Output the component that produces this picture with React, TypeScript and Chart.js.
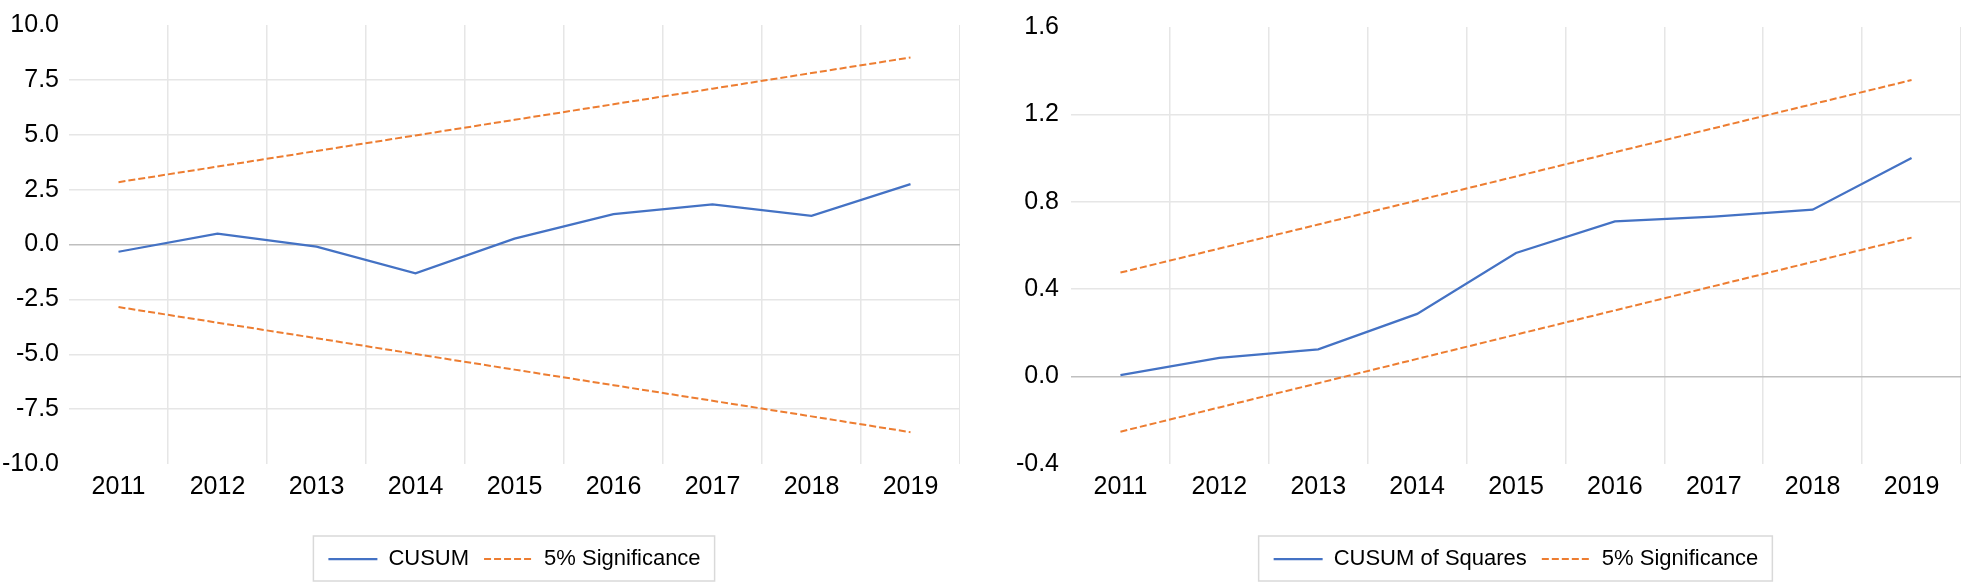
import React, { useEffect, useRef } from 'react';
import { Chart, registerables } from 'chart.js';

Chart.register(...registerables);

// ---- data ----
const years = ['2011', '2012', '2013', '2014', '2015', '2016', '2017', '2018', '2019'];

const cusum = [-0.33, 0.5, -0.1, -1.31, 0.27, 1.38, 1.83, 1.31, 2.75];
const cusumUpper = [2.84, 3.55, 4.26, 4.97, 5.68, 6.39, 7.1, 7.81, 8.52];
const cusumLower = [-2.85, -3.56, -4.27, -4.99, -5.7, -6.41, -7.12, -7.83, -8.55];

const cusumSq = [0.007, 0.086, 0.125, 0.287, 0.566, 0.71, 0.732, 0.764, 1.0];
const sqUpper = [0.476, 0.586, 0.696, 0.806, 0.916, 1.027, 1.137, 1.247, 1.357];
const sqLower = [-0.252, -0.141, -0.03, 0.081, 0.192, 0.303, 0.414, 0.525, 0.636];

const leftTicks = { min: -10, max: 10, step: 2.5 };
const rightTicks = { min: -0.4, max: 1.6, step: 0.4 };

const mainLabelLeft = 'CUSUM';
const mainLabelRight = 'CUSUM of Squares';
const sigLabel = '5% Significance';

// ---- styling ----
const FONT = "'Liberation Sans', Arial, sans-serif";
const BLUE = '#4472C4';
const ORANGE = '#ED7D31';
const GRID = '#e6e6e6';
const ZERO = '#bfbfbf';

const legendBorder = {
  id: 'legendBorder',
  afterDraw(chart: any) {
    const lg = chart.legend;
    if (!lg || !lg.legendHitBoxes || !lg.legendHitBoxes.length) return;
    const hb = lg.legendHitBoxes;
    const first = hb[0];
    const last = hb[hb.length - 1];
    const x0 = first.left - 15;
    const x1 = last.left + last.width + 14;
    const y0 = lg.top + 3;
    const y1 = lg.top + 48;
    const ctx = chart.ctx;
    ctx.save();
    ctx.strokeStyle = '#d9d9d9';
    ctx.lineWidth = 1.5;
    ctx.setLineDash([]);
    ctx.strokeRect(x0, y0, x1 - x0, y1 - y0);
    ctx.restore();
  },
};

function makeConfig(
  main: number[],
  upper: number[],
  lower: number[],
  mainLabel: string,
  t: { min: number; max: number; step: number },
  yWidth: number,
  yPad: number
): any {
  return {
    type: 'line',
    data: {
      labels: years,
      datasets: [
        {
          label: mainLabel,
          data: main,
          borderColor: BLUE,
          backgroundColor: BLUE,
          borderWidth: 2.25,
          pointRadius: 0,
          tension: 0,
          fill: false,
        },
        {
          label: sigLabel,
          data: upper,
          borderColor: ORANGE,
          backgroundColor: ORANGE,
          borderWidth: 2,
          borderDash: [7, 3],
          pointRadius: 0,
          tension: 0,
          fill: false,
        },
        {
          label: sigLabel,
          data: lower,
          borderColor: ORANGE,
          backgroundColor: ORANGE,
          borderWidth: 2,
          borderDash: [7, 3],
          pointRadius: 0,
          tension: 0,
          fill: false,
        },
      ],
    },
    options: {
      responsive: false,
      animation: false,
      layout: { padding: { top: 19, bottom: 2, left: 0, right: 0 } },
      plugins: {
        tooltip: { enabled: false },
        legend: {
          position: 'bottom',
          fullSize: false,
          labels: {
            usePointStyle: true,
            pointStyle: 'line',
            pointStyleWidth: 49,
            padding: 15,
            color: '#000',
            font: { size: 22, family: FONT },
            generateLabels: (chart: any) => {
              const items = (Chart.defaults.plugins.legend.labels as any).generateLabels(chart);
              return items.map((it: any) => {
                const ds = chart.data.datasets[it.datasetIndex];
                return {
                  ...it,
                  pointStyle: 'line',
                  lineDash: ds.borderDash || [],
                  lineWidth: ds.borderWidth,
                  strokeStyle: ds.borderColor,
                  fillStyle: ds.borderColor,
                };
              });
            },
            filter: (item: any) => item.datasetIndex !== 2,
          },
        },
      },
      scales: {
        x: {
          offset: true,
          grid: {
            offset: true,
            drawTicks: false,
            lineWidth: 1.5,
            color: (ctx: any) => (ctx.index === 0 || ctx.index === years.length ? 'rgba(0,0,0,0)' : GRID),
          },
          border: { display: false },
          ticks: {
            color: '#000',
            font: { size: 25, family: FONT },
            padding: 8,
            maxRotation: 0,
            autoSkip: false,
          },
          afterFit: (scale: any) => {
            scale.height = 69;
          },
        },
        y: {
          min: t.min,
          max: t.max,
          grid: {
            drawTicks: false,
            lineWidth: 1.5,
            color: (ctx: any) => {
              const v = ctx.tick ? ctx.tick.value : 0;
              if (Math.abs(v - t.min) < 1e-9 || Math.abs(v - t.max) < 1e-9) return 'rgba(0,0,0,0)';
              if (Math.abs(v) < 1e-9) return ZERO;
              return GRID;
            },
          },
          border: { display: false },
          ticks: {
            stepSize: t.step,
            color: '#000',
            font: { size: 25, family: FONT },
            padding: yPad,
            callback: (v: any) => Number(v).toFixed(1),
          },
          afterFit: (scale: any) => {
            scale.width = yWidth;
          },
        },
      },
    },
    plugins: [legendBorder],
  };
}

function ChartCanvas({ left, width, config }: { left: number; width: number; config: () => any }) {
  const ref = useRef<HTMLCanvasElement | null>(null);
  useEffect(() => {
    if (!ref.current) return;
    const chart = new Chart(ref.current, config());
    return () => chart.destroy();
  }, []);
  return (
    <canvas
      ref={ref}
      width={width}
      height={582}
      style={{ position: 'absolute', left, top: 0, width, height: 582 }}
    />
  );
}

export default function App() {
  return (
    <div
      style={{
        position: 'fixed',
        left: 0,
        top: 0,
        width: 1961,
        height: 582,
        background: '#fff',
        overflow: 'hidden',
      }}
    >
      <ChartCanvas
        left={0}
        width={960}
        config={() => makeConfig(cusum, cusumUpper, cusumLower, mainLabelLeft, leftTicks, 69, 10)}
      />
      <ChartCanvas
        left={1001}
        width={960}
        config={() => makeConfig(cusumSq, sqUpper, sqLower, mainLabelRight, rightTicks, 70, 12)}
      />
    </div>
  );
}
